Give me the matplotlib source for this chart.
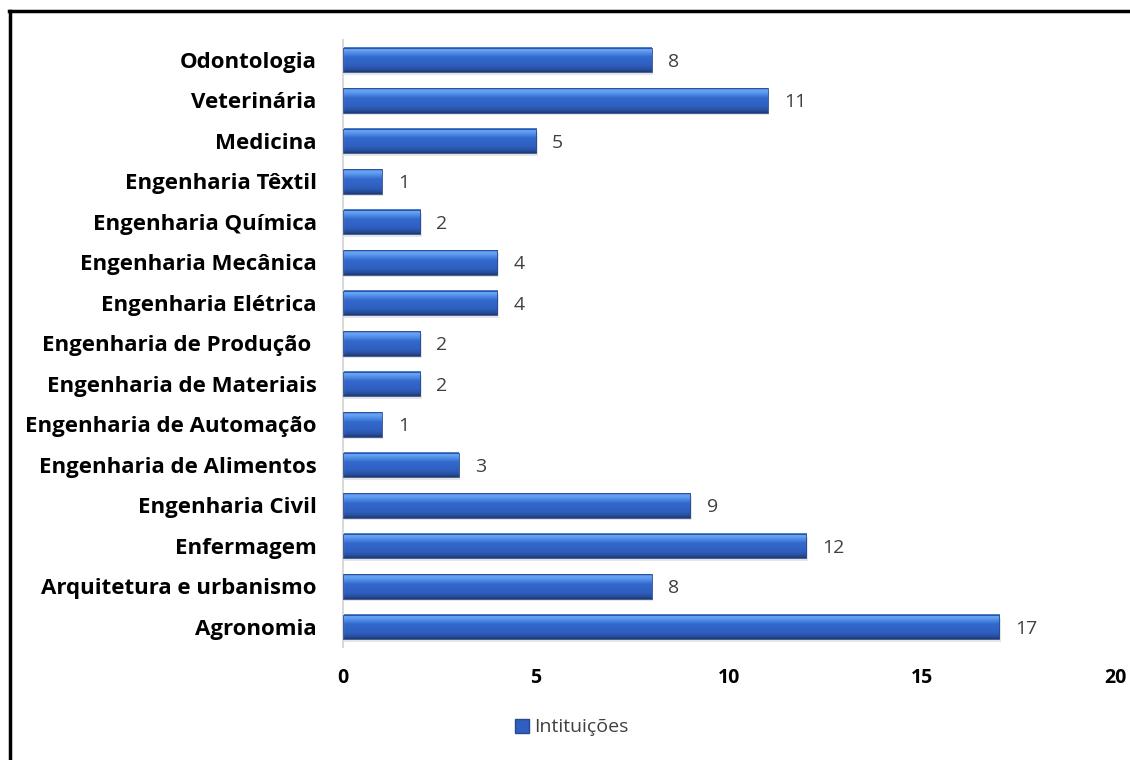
import matplotlib.pyplot as plt
import numpy as np
from matplotlib.patches import Rectangle
from matplotlib.lines import Line2D

cursos = ["Agronomia", "Arquitetura e urbanismo", "Enfermagem", "Engenharia Civil",
          "Engenharia de Alimentos", "Engenharia de Automação", "Engenharia de Materiais",
          "Engenharia de Produção ", "Engenharia Elétrica", "Engenharia Mecânica",
          "Engenharia Química", "Engenharia Têxtil", "Medicina", "Veterinária", "Odontologia"]
instituicoes = [17, 8, 12, 9, 3, 1, 2, 2, 4, 4, 2, 1, 5, 11, 8]
xticks = [0, 5, 10, 15, 20]

plt.rcParams['font.family'] = ['Open Sans', 'DejaVu Sans']

fig = plt.figure(figsize=(11.3, 7.6), dpi=100)
ax = fig.add_axes([0.3035, 0.1484, 0.6832, 0.7993])

# vertical shading for the bevelled bars, top to bottom (position, r, g, b)
stops = np.array([
    [0.00, 0.25, 0.47, 0.85],
    [0.10, 0.42, 0.65, 0.96],
    [0.25, 0.30, 0.54, 0.90],
    [0.40, 0.20, 0.41, 0.80],
    [0.75, 0.18, 0.37, 0.75],
    [0.90, 0.16, 0.31, 0.62],
    [1.00, 0.12, 0.22, 0.44],
])
t = np.linspace(0, 1, 64)
grad = np.stack([np.interp(t, stops[:, 0], stops[:, k]) for k in (1, 2, 3)], axis=1)
grad = grad[:, None, :]

h = 0.6
y = np.arange(len(cursos))
for yi, v in zip(y, instituicoes):
    # soft shadow under each bar
    ax.add_patch(Rectangle((0, yi - h / 2 - 0.07), v + 0.04, h, color='#000000',
                           alpha=0.10, lw=0, zorder=1))
    ax.imshow(grad, extent=(0, v, yi - h / 2, yi + h / 2), aspect='auto',
              interpolation='bilinear', zorder=2)
    ax.add_patch(Rectangle((0, yi - h / 2), v, h, fill=False, ec='#284a8c',
                           lw=0.6, zorder=3))
    ax.text(v + 0.42, yi - 0.04, str(v), va='center', ha='left', fontsize=14,
            color='#404040')

ax.set_xlim(0, 20)
ax.set_ylim(-0.5, len(cursos) - 0.5)
ax.set_yticks(y)
ax.set_yticklabels(cursos, fontsize=16, fontweight='bold', color='black')
ax.set_xticks(xticks)
ax.set_xticklabels([str(v) for v in xticks], fontsize=14, fontweight='bold')
ax.tick_params(axis='both', length=0)
ax.tick_params(axis='y', pad=19)
ax.tick_params(axis='x', pad=15)
for s in ['top', 'right', 'bottom']:
    ax.spines[s].set_visible(False)
ax.spines['left'].set_color('#d9d9d9')
ax.spines['left'].set_linewidth(1.5)

handle = Line2D([], [], marker='s', ls='none', markersize=10,
                markerfacecolor='#2f5fc0', markeredgecolor='#284a8c')
fig.legend([handle], ['Intituições'], loc='center', bbox_to_anchor=(0.505, 0.043),
           frameon=False, fontsize=14, labelcolor='#404040', handletextpad=0.1,
           handlelength=1.0)

# outer frame
fig.add_artist(Line2D([0.009, 0.009], [0.0, 0.986], transform=fig.transFigure,
                      color='black', lw=2.5))
fig.add_artist(Line2D([0.008, 1.0], [0.986, 0.986], transform=fig.transFigure,
                      color='black', lw=2.5))

fig.savefig("out.png", dpi=100)
